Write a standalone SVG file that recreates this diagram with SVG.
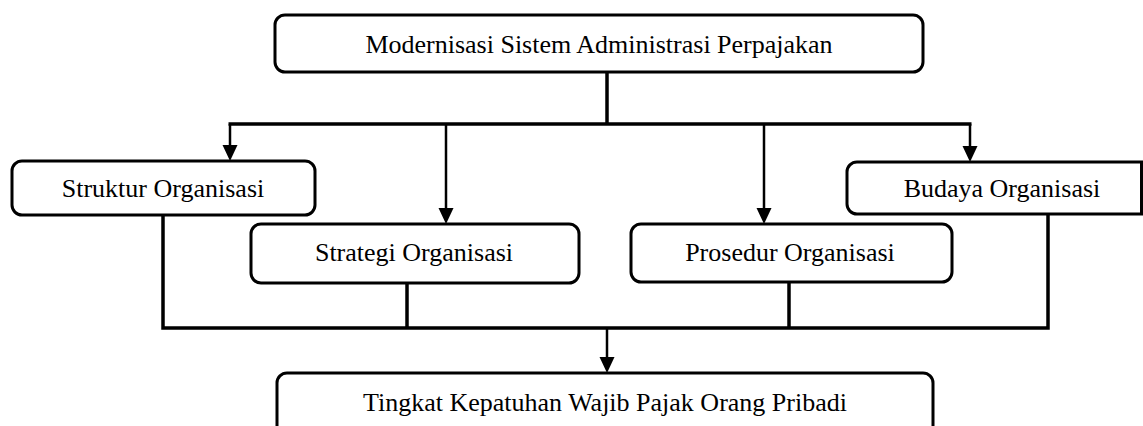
<svg xmlns="http://www.w3.org/2000/svg" width="1143" height="426" viewBox="0 0 1143 426">
<style>
.box{fill:#fff;stroke:#000;stroke-width:3}
.lbl{font-family:"Liberation Serif","Times New Roman",serif;font-size:26px;fill:#000;text-anchor:middle}
.ln{fill:none;stroke:#000;stroke-width:3.5}
.ar{fill:none;stroke:#000;stroke-width:2.5}
</style>
<defs>
<marker id="ah" markerUnits="userSpaceOnUse" markerWidth="18" markerHeight="16" refX="8" refY="7.5" orient="auto">
<path d="M0,0 L16,7.5 L0,15 z" fill="#000"/>
</marker>
</defs>
<rect width="1143" height="426" fill="#fff"/>
<g id="connectors">
<path class="ln" d="M607,72 V124"/>
<path class="ln" d="M228.5,124 H971.5"/>
<path class="ar" d="M230,124 V153" marker-end="url(#ah)"/>
<path class="ar" d="M446,124 V216" marker-end="url(#ah)"/>
<path class="ar" d="M764,124 V216" marker-end="url(#ah)"/>
<path class="ar" d="M970,124 V154" marker-end="url(#ah)"/>
<path class="ln" d="M163,215 V328 H1048 V214"/>
<path class="ln" d="M407,283 V328"/>
<path class="ln" d="M789,282 V328"/>
<path class="ar" d="M607,328 V365" marker-end="url(#ah)"/>
</g>
<g id="node-modernisasi">
<rect class="box" x="275" y="15" width="648" height="57" rx="10"/>
<text class="lbl" x="599" y="53">Modernisasi Sistem Administrasi Perpajakan</text>
</g>
<g id="node-struktur">
<rect class="box" x="12" y="161" width="303" height="54" rx="10"/>
<text class="lbl" x="163" y="197">Struktur Organisasi</text>
</g>
<g id="node-strategi">
<rect class="box" x="251" y="224" width="328" height="59" rx="10"/>
<text class="lbl" x="414" y="261">Strategi Organisasi</text>
</g>
<g id="node-prosedur">
<rect class="box" x="631" y="224" width="321" height="58" rx="10"/>
<text class="lbl" x="790" y="261">Prosedur Organisasi</text>
</g>
<g id="node-budaya">
<path class="box" d="M1141.5,162 H857 A10,10 0 0 0 847,172 V204 A10,10 0 0 0 857,214 H1141.5 Z"/>
<text class="lbl" x="1002" y="197">Budaya Organisasi</text>
</g>
<g id="node-tingkat">
<rect class="box" x="277" y="373" width="656" height="80" rx="10"/>
<text class="lbl" x="605" y="411">Tingkat Kepatuhan Wajib Pajak Orang Pribadi</text>
</g>
</svg>
